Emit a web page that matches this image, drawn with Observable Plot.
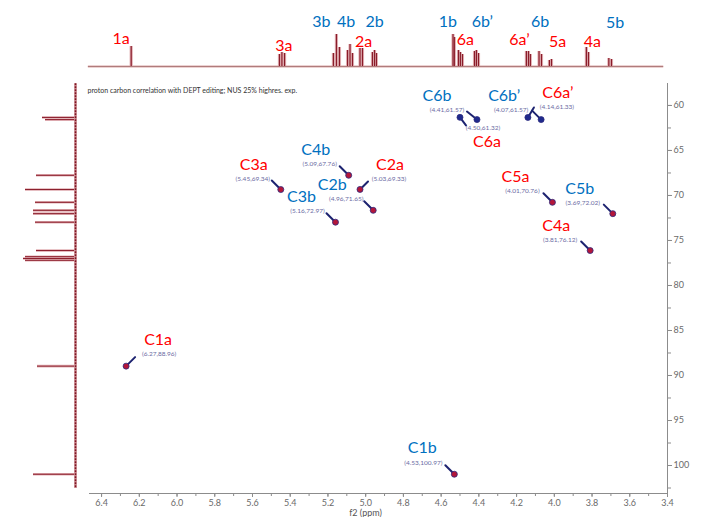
<!DOCTYPE html>
<html>
<head>
<meta charset="utf-8">
<script src="https://cdn.jsdelivr.net/npm/d3@7"></script>
<script src="https://cdn.jsdelivr.net/npm/@observablehq/plot@0.6"></script>
<style>
  html, body { margin: 0; padding: 0; background: #fff; }
  #chart { position: relative; width: 708px; height: 517px; overflow: hidden; }
  #chart svg { position: absolute; left: 0; top: 0; }
</style>
</head>
<body>
<div id="chart"></div>
<script>
// ---- 2D HSQC cross peaks (DEPT edited): f2 = 1H shift, f1 = 13C shift ----
const peakNames    = ["C1a", "C2a", "C3a", "C4a", "C5a", "C6a", "C6a\u2019", "C1b", "C2b", "C3b", "C4b", "C5b", "C6b", "C6b\u2019"];
const protonShift  = [6.27, 5.03, 5.45, 3.81, 4.01, 4.50, 4.14, 4.53, 4.96, 5.16, 5.09, 3.69, 4.41, 4.07];
const carbonShift  = [88.96, 69.33, 69.34, 76.12, 70.76, 61.32, 61.33, 100.97, 71.65, 72.97, 67.76, 72.02, 61.57, 61.57];
const residue      = ["a", "a", "a", "a", "a", "a", "a", "b", "b", "b", "b", "b", "b", "b"];
const multiplicity = ["CH", "CH", "CH", "CH", "CH", "CH2", "CH2", "CH", "CH", "CH", "CH", "CH", "CH2", "CH2"];

// ---- 1D proton trace along the top (line positions in ppm, relative heights) ----
const protonLinePpm    = [6.243, 5.457, 5.444, 5.430, 5.171, 5.155, 5.139, 5.096, 5.083, 5.070, 5.030, 5.017,
                          4.964, 4.953, 4.943, 4.537, 4.530, 4.508, 4.498, 4.487, 4.423, 4.413, 4.402,
                          4.148, 4.137, 4.127, 4.081, 4.068, 4.026, 4.015, 3.830, 3.819, 3.711, 3.697];
const protonLineHeight = [20, 12, 14, 13, 13, 32, 19, 16, 22, 13, 18, 18,
                          14, 16, 13, 32, 29, 16, 14, 12, 15, 16, 13,
                          15, 15, 12, 15, 12, 6, 7, 19, 14, 8, 7];
const protonWindow = [6.47, 3.42];
const protonLabels   = ["1a", "3a", "3b", "4b", "2a", "2b", "1b", "6a", "6b\u2019", "6a\u2019", "6b", "5a", "4a", "5b"];
const protonLabelPpm = [6.243, 5.444, 5.155, 5.083, 5.024, 4.953, 4.533, 4.498, 4.413, 4.137, 4.075, 4.020, 3.825, 3.704];
const protonLabelRes = ["a", "a", "b", "b", "a", "b", "b", "a", "b", "a", "b", "a", "a", "b"];

// ---- 1D carbon trace along the left (line positions in ppm, relative heights) ----
const carbonLinePpm    = [61.33, 61.57, 67.76, 69.34, 70.76, 71.65, 72.02, 72.97, 76.12, 76.8, 77.0, 77.2, 88.96, 100.97];
const carbonLineHeight = [33, 30, 39, 50, 40, 42, 42, 40, 39, 50, 52, 50, 38, 42];
const carbonWindow = [57.6, 102.55];

// ---- axis ticks ----
const xMajor = d3.range(64, 33, -2).map(d => d / 10);
const xMinor = d3.range(64, 33, -1).map(d => d / 10);
const yMajor = d3.range(60, 101, 5);
const yMinor = d3.range(600, 1026, 25).map(d => d / 10);

const caption = "proton carbon correlation with DEPT editing; NUS 25% highres. exp.";

// ---- layout ----
const W = 708, H = 517;
const M = {left: 89, right: 41, top: 83, bottom: 24};
const xDomain = [6.464, 3.4];
const yDomain = [57.56, 103.11];
const pxPerX = (W - M.left - M.right) / (xDomain[0] - xDomain[1]);
const pxPerY = (H - M.top - M.bottom) / (yDomain[1] - yDomain[0]);
const shiftX = (ppm, px) => ppm - px / pxPerX;   // move right on screen by px
const shiftY = (ppm, px) => ppm + px / pxPerY;   // move down on screen by px

const colorOf = {a: "#ff0000", b: "#0070c0"};
const font = "Lato, 'Open Sans', sans-serif";

// label placement around each cross peak, in pixels:
// [coordinate dx, dy, name dx, dy, leader dx, dy]
const tagPlacement = [
  [33, -12, 32, -26, 9, -9],
  [29, -11, 30, -25, 8, -8],
  [-28, -11, -27, -25, -9, -9],
  [-30, -11, -34, -25, -9, -9],
  [-30, -11, -37, -25, -9, -9],
  [23, 11, 27, 25, 6, 8],
  [29, -11, 30, -25, 6, -10],
  [-31, -11, -32, -26, -9, -9],
  [-27, -11, -41, -25, -9, -9],
  [-28, -11, -34, -25, -9, -9],
  [-29, -11, -33, -25, -9, -9],
  [-30, -11, -33, -25, -9, -9],
  [-30, -10, -40, -24, -10, -8],
  [-30, -10, -37, -24, -9, -9]
];
// top trace label offsets in pixels: [dx from line, label centre from top]
const protonLabelPlacement = [
  [-10, 38], [2, 45], [-15, 21], [-4, 21], [2.5, 41], [0, 21], [-6, 21],
  [5, 39], [6, 21], [-9, 39], [0, 21], [7, 41], [5, 41], [5, 22]
];

const peaks = peakNames.map((name, i) => {
  const [cdx, cdy, ndx, ndy, ldx, ldy] = tagPlacement[i];
  const h = protonShift[i], c = carbonShift[i];
  return {
    name, h, c,
    color: colorOf[residue[i]],
    core: multiplicity[i] === "CH2" ? "#1f2a8c" : "#b3163a",
    coord: `(${h.toFixed(2)},${c.toFixed(2)})`,
    cx: shiftX(h, cdx), cy: shiftY(c, cdy),
    nx: shiftX(h, ndx), ny: shiftY(c, ndy),
    lx: shiftX(h, ldx), ly: shiftY(c, ldy)
  };
});

const protonLines = protonLinePpm.map((ppm, i) => ({ppm, height: protonLineHeight[i]}));
const protonTags = protonLabels.map((text, i) => ({
  text,
  x: shiftX(protonLabelPpm[i], protonLabelPlacement[i][0]),
  y: 66 - protonLabelPlacement[i][1],
  color: colorOf[protonLabelRes[i]]
}));
const carbonLines = carbonLinePpm.map((ppm, i) => ({ppm, height: carbonLineHeight[i]}));

// ---- main 2D panel ----
const main = Plot.plot({
  width: W, height: H,
  marginLeft: M.left, marginRight: M.right, marginTop: M.top, marginBottom: M.bottom,
  style: {background: "transparent", fontFamily: font},
  x: {domain: xDomain},
  y: {domain: yDomain, reverse: true},
  color: {type: "identity"},
  marks: [
    Plot.ruleY([yDomain[1]], {stroke: "#8c8c8c", strokeWidth: 1}),
    Plot.ruleX([xDomain[1]], {stroke: "#8c8c8c", strokeWidth: 1}),
    Plot.axisX(xMinor, {anchor: "bottom", tickSize: 3, stroke: "#8c8c8c", fill: "none", label: null}),
    Plot.axisX(xMajor, {anchor: "bottom", tickSize: 4, tickPadding: 2, stroke: "#8c8c8c", fill: "#6a6a6a",
      fontSize: 9, tickFormat: d3.format(".1f"), label: null}),
    Plot.axisY(yMinor, {anchor: "right", tickSize: 3, stroke: "#8c8c8c", fill: "none", label: null}),
    Plot.axisY(yMajor, {anchor: "right", tickSize: 4, tickPadding: 2, stroke: "#8c8c8c", fill: "#6a6a6a",
      fontSize: 9, label: null}),
    Plot.text(["f2 (ppm)"], {frameAnchor: "bottom", dx: -13, dy: 22, fontSize: 9, fill: "#555"}),
    Plot.text([caption], {frameAnchor: "top-left", dx: -2, dy: 5, textAnchor: "start", fontSize: 7, fill: "#333"}),
    Plot.link(peaks, {x1: "h", y1: "c", x2: "lx", y2: "ly", stroke: "#1d2370", strokeWidth: 2, strokeLinecap: "round"}),
    Plot.dot(peaks, {x: "h", y: "c", r: 3, fill: "core", stroke: "#2b2a7e", strokeWidth: 0.8}),
    Plot.text(peaks, {x: "cx", y: "cy", text: "coord", fontSize: 6.5, fill: "#6b6ba3"}),
    Plot.text(peaks, {x: "nx", y: "ny", text: "name", fontSize: 16, fill: "color"})
  ]
});

// ---- 1D proton trace (top) ----
const topTrace = Plot.plot({
  width: W, height: M.top,
  marginLeft: M.left, marginRight: M.right, marginTop: 0, marginBottom: 17,
  style: {background: "transparent", fontFamily: font, overflow: "visible"},
  x: {domain: xDomain, axis: null},
  y: {domain: [0, 66], axis: null},
  color: {type: "identity"},
  marks: [
    Plot.ruleY([0], {x1: protonWindow[0], x2: protonWindow[1], stroke: "#ecd2d2", strokeWidth: 3}),
    Plot.ruleY([0], {x1: protonWindow[0], x2: protonWindow[1], stroke: "#b07c7c", strokeWidth: 1.1}),
    Plot.ruleX(protonLines, {x: "ppm", y1: 0, y2: "height", stroke: "#e2b0b4", strokeWidth: 3.2}),
    Plot.ruleX(protonLines, {x: "ppm", y1: 0, y2: "height", stroke: "#8a1c2a", strokeWidth: 1.2}),
    Plot.text(protonTags, {x: "x", y: "y", text: "text", fill: "color", fontSize: 16})
  ]
});

// ---- 1D carbon trace (left) ----
const leftTrace = Plot.plot({
  width: M.left, height: H,
  marginLeft: 15, marginRight: 14, marginTop: M.top, marginBottom: M.bottom,
  style: {background: "transparent"},
  x: {domain: [60, 0], axis: null},
  y: {domain: yDomain, reverse: true, axis: null},
  marks: [
    Plot.ruleY(carbonLines, {y: "ppm", x1: 0, x2: "height", stroke: "#e2b0b4", strokeWidth: 2.6}),
    Plot.ruleY(carbonLines, {y: "ppm", x1: 0, x2: "height", stroke: "#8a1c2a", strokeWidth: 1}),
    Plot.ruleX([0], {y1: carbonWindow[0], y2: carbonWindow[1], stroke: "#d9a4a8", strokeWidth: 3}),
    Plot.ruleX([0], {y1: carbonWindow[0], y2: carbonWindow[1], stroke: "#7e1422", strokeWidth: 1.6, strokeDasharray: "2 1"})
  ]
});

const chart = document.getElementById("chart");
chart.append(main, topTrace, leftTrace);
</script>
</body>
</html>
